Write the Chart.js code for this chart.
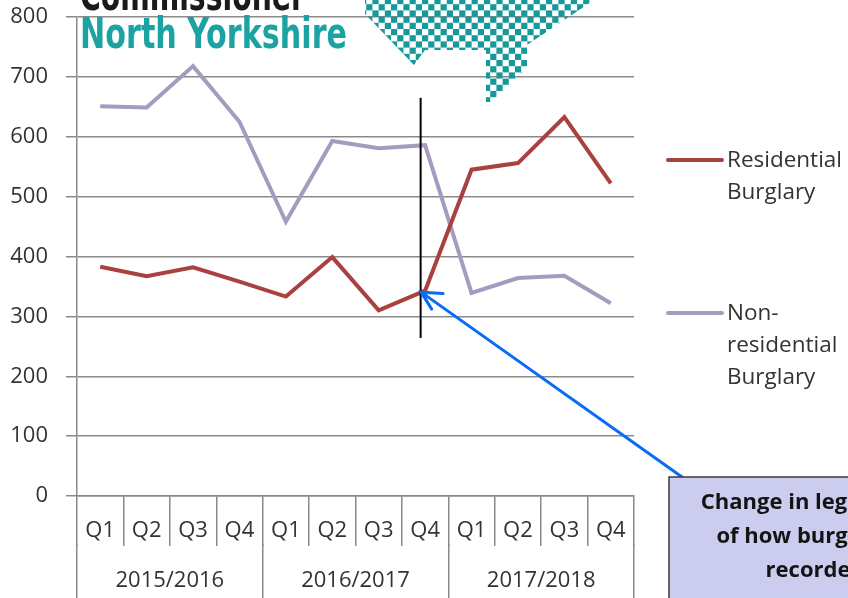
<!DOCTYPE html>
<html>
<head>
<meta charset="utf-8">
<script src="https://cdn.jsdelivr.net/npm/chart.js@4"></script>
<style>
  html, body { margin: 0; padding: 0; background: #fff; }
  #wrap { width: 848px; height: 598px; position: relative; }
</style>
</head>
<body>
<div id="wrap"><canvas id="burglaryChart"></canvas></div>
<script>
// datos
const quarters = ["Q1", "Q2", "Q3", "Q4", "Q1", "Q2", "Q3", "Q4", "Q1", "Q2", "Q3", "Q4"];
const years = ["2015/2016", "2016/2017", "2017/2018"];
const residential = [383, 367, 382, 358, 333, 399, 310, 343, 545, 556, 633, 522];
const nonResidential = [651, 649, 718, 625, 458, 593, 581, 586, 339, 364, 368, 322];
const seriesNames = [["Residential", "Burglary"], ["Non-", "residential", "Burglary"]];
const seriesColors = ["#a9413e", "#a69bbf"];
const noteLines = ["Change in legislation", "of how burglary is", "recorded"];
const yMax = 800;
const yStep = 100;

const gridColor = "#8a8a8a";
const textColor = "#333333";
Chart.defaults.font.family = "'Open Sans', sans-serif";
Chart.defaults.font.size = 22;
Chart.defaults.color = textColor;

// logo de fondo (texto + cuadricula)
const logoPlugin = {
    id: "logo",
    afterDraw: function (chart) {
        let ctx = chart.ctx;
        ctx.save();
        ctx.font = "bold 42px 'DejaVu Sans Condensed', 'DejaVu Sans'";
        ctx.textBaseline = "alphabetic";
        ctx.textAlign = "left";

        let w1 = ctx.measureText("Commissioner").width;
        ctx.save();
        ctx.translate(80, 10);
        ctx.scale(225 / w1, 1);
        ctx.fillStyle = "#1a1a1a";
        ctx.fillText("Commissioner", 0, 0);
        ctx.restore();

        let w2 = ctx.measureText("North Yorkshire").width;
        ctx.save();
        ctx.translate(80, 48);
        ctx.scale(267 / w2, 1);
        ctx.fillStyle = "#1ba2a2";
        ctx.fillText("North Yorkshire", 0, 0);
        ctx.restore();

        // forma del mapa con cuadros alternos
        let forma = [[365, 0], [594, 0], [527, 45], [527, 68], [491, 102], [486, 102], [486, 50], [425, 50], [414, 65], [365, 14]];
        ctx.beginPath();
        forma.forEach((p, i) => i === 0 ? ctx.moveTo(p[0], p[1]) : ctx.lineTo(p[0], p[1]));
        ctx.closePath();
        ctx.clip();
        ctx.fillStyle = "#17999a";
        let c = 6.2;
        for (let r = 0; r * c < 110; r++) {
            for (let k = 0; 360 + k * c < 600; k++) {
                if ((r + k) % 2 === 0) {
                    ctx.fillRect(360 + k * c, r * c - 2, c, c);
                }
            }
        }
        ctx.restore();
    }
};

// linea vertical, flecha y recuadro de nota
const notaPlugin = {
    id: "nota",
    afterDraw: function (chart) {
        let ctx = chart.ctx;
        let y = chart.scales.y;
        let punto = chart.getDatasetMeta(0).data[7];

        ctx.save();
        ctx.strokeStyle = "#000";
        ctx.lineWidth = 2;
        ctx.beginPath();
        ctx.moveTo(punto.x - 4.5, y.getPixelForValue(665));
        ctx.lineTo(punto.x - 4.5, y.getPixelForValue(264));
        ctx.stroke();

        // flecha azul
        let tipX = punto.x - 4, tipY = punto.y + 1.5;
        let tailX = 682, tailY = 477;
        let ang = Math.atan2(tailY - tipY, tailX - tipX);
        ctx.strokeStyle = "#0a6cf5";
        ctx.lineWidth = 3;
        ctx.lineCap = "round";
        ctx.beginPath();
        ctx.moveTo(tailX, tailY);
        ctx.lineTo(tipX, tipY);
        ctx.moveTo(tipX + 22 * Math.cos(ang - 0.55), tipY + 22 * Math.sin(ang - 0.55));
        ctx.lineTo(tipX, tipY);
        ctx.lineTo(tipX + 20 * Math.cos(ang + 0.4), tipY + 20 * Math.sin(ang + 0.4));
        ctx.stroke();

        // recuadro
        ctx.fillStyle = "#ccccee";
        ctx.fillRect(669, 477, 200, 140);
        ctx.strokeStyle = "#3a3a3a";
        ctx.lineWidth = 1.5;
        ctx.strokeRect(669, 477, 200, 140);

        ctx.fillStyle = "#141414";
        ctx.font = "bold 22px 'Open Sans'";
        ctx.textAlign = "center";
        ctx.textBaseline = "middle";
        noteLines.forEach((t, i) => ctx.fillText(t, 815, 503 + i * 34));
        ctx.restore();
    }
};

// leyenda a la derecha
const leyendaPlugin = {
    id: "leyenda",
    afterDraw: function (chart) {
        let ctx = chart.ctx;
        let posY = [160, 313];
        ctx.save();
        ctx.font = "22.5px 'Open Sans'";
        ctx.textAlign = "left";
        ctx.textBaseline = "middle";
        chart.data.datasets.forEach((ds, i) => {
            ctx.strokeStyle = ds.borderColor;
            ctx.lineWidth = 4;
            ctx.lineCap = "round";
            ctx.beginPath();
            ctx.moveTo(668, posY[i]);
            ctx.lineTo(722, posY[i]);
            ctx.stroke();
            ctx.fillStyle = textColor;
            seriesNames[i].forEach((t, j) => ctx.fillText(t, 727, posY[i] + 1 + j * 32));
        });
        ctx.restore();
    }
};

let ctx = document.getElementById("burglaryChart").getContext("2d");

let chart = new Chart(ctx, {
    type: "line",
    data: {
        labels: quarters,
        datasets: [{
            label: seriesNames[0].join(" "),
            data: residential,
            borderColor: seriesColors[0],
            backgroundColor: seriesColors[0],
            borderWidth: 4,
            pointRadius: 0,
            tension: 0
        }, {
            label: seriesNames[1].join(" "),
            data: nonResidential,
            borderColor: seriesColors[1],
            backgroundColor: seriesColors[1],
            borderWidth: 4,
            pointRadius: 0,
            tension: 0
        }]
    },
    options: {
        responsive: true,
        maintainAspectRatio: false,
        animation: false,
        layout: {
            padding: { top: 17, right: 214, left: 0, bottom: 0 }
        },
        plugins: {
            legend: { display: false },
            tooltip: { enabled: false }
        },
        scales: {
            y: {
                min: 0,
                max: yMax,
                ticks: { stepSize: yStep, padding: 18, color: textColor },
                grid: { color: gridColor, tickLength: 11, lineWidth: 1.5 },
                border: { color: gridColor, width: 1.5 },
                afterFit: function (scale) {
                    scale.width = 77;
                    scale.paddingTop = 0; // el margen superior lo marca layout.padding
                    scale.paddingBottom = 0;
                }
            },
            x: {
                type: "category",
                position: "bottom",
                offset: true,
                ticks: { padding: -28, color: textColor, maxRotation: 0, autoSkip: false },
                grid: { offset: true, drawOnChartArea: false, tickLength: 50, color: gridColor, lineWidth: 1.5 },
                border: { color: gridColor, width: 1.5 },
                afterFit: function (scale) { scale.height = 48; }
            },
            x2: {
                type: "category",
                position: "bottom",
                labels: years,
                offset: true,
                ticks: { padding: -30, color: textColor, maxRotation: 0, autoSkip: false },
                grid: { offset: true, drawOnChartArea: false, tickLength: 54, color: gridColor, lineWidth: 1.5 },
                border: { display: false },
                afterFit: function (scale) { scale.height = 54; }
            }
        }
    },
    plugins: [leyendaPlugin, notaPlugin, logoPlugin]
});
</script>
</body>
</html>
